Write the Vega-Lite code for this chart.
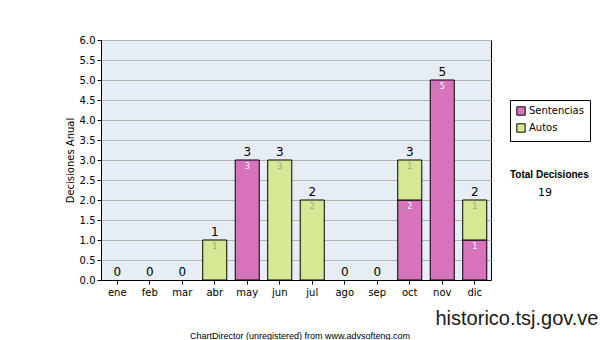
{
  "$schema": "https://vega.github.io/schema/vega-lite/v6.json",
  "autosize": {"type": "none"},
  "width": 390,
  "height": 240,
  "padding": {"left": 101, "top": 40, "right": 109, "bottom": 60},
  "background": "white",
  "view": {"stroke": "#000000", "strokeWidth": 1, "fill": "#e6edf5"},
  "title": {
    "text": "ChartDirector (unregistered) from www.advsofteng.com",
    "orient": "bottom",
    "anchor": "middle",
    "frame": "group",
    "font": "Liberation Sans",
    "fontSize": 9,
    "fontWeight": "normal",
    "color": "#000000",
    "offset": 4,
    "dx": 4
  },
  "config": {
    "font": "DejaVu Sans",
    "axis": {
      "labelFont": "DejaVu Sans",
      "labelFontSize": 10,
      "labelColor": "#000000",
      "domainColor": "#000000",
      "tickColor": "#000000",
      "tickSize": 4,
      "gridColor": "#b4b4b4",
      "gridOpacity": 1
    },
    "legend": {"labelFont": "DejaVu Sans"}
  },
  "data": {
    "values": [
      {"mes": "ene", "serie": "Sentencias", "k": 1, "value": 0},
      {"mes": "ene", "serie": "Autos", "k": 2, "value": 0},
      {"mes": "feb", "serie": "Sentencias", "k": 1, "value": 0},
      {"mes": "feb", "serie": "Autos", "k": 2, "value": 0},
      {"mes": "mar", "serie": "Sentencias", "k": 1, "value": 0},
      {"mes": "mar", "serie": "Autos", "k": 2, "value": 0},
      {"mes": "abr", "serie": "Sentencias", "k": 1, "value": 0},
      {"mes": "abr", "serie": "Autos", "k": 2, "value": 1},
      {"mes": "may", "serie": "Sentencias", "k": 1, "value": 3},
      {"mes": "may", "serie": "Autos", "k": 2, "value": 0},
      {"mes": "jun", "serie": "Sentencias", "k": 1, "value": 0},
      {"mes": "jun", "serie": "Autos", "k": 2, "value": 3},
      {"mes": "jul", "serie": "Sentencias", "k": 1, "value": 0},
      {"mes": "jul", "serie": "Autos", "k": 2, "value": 2},
      {"mes": "ago", "serie": "Sentencias", "k": 1, "value": 0},
      {"mes": "ago", "serie": "Autos", "k": 2, "value": 0},
      {"mes": "sep", "serie": "Sentencias", "k": 1, "value": 0},
      {"mes": "sep", "serie": "Autos", "k": 2, "value": 0},
      {"mes": "oct", "serie": "Sentencias", "k": 1, "value": 2},
      {"mes": "oct", "serie": "Autos", "k": 2, "value": 1},
      {"mes": "nov", "serie": "Sentencias", "k": 1, "value": 5},
      {"mes": "nov", "serie": "Autos", "k": 2, "value": 0},
      {"mes": "dic", "serie": "Sentencias", "k": 1, "value": 1},
      {"mes": "dic", "serie": "Autos", "k": 2, "value": 1}
    ]
  },
  "encoding": {
    "x": {
      "field": "mes",
      "type": "nominal",
      "sort": ["ene", "feb", "mar", "abr", "may", "jun", "jul", "ago", "sep", "oct", "nov", "dic"],
      "scale": {"paddingInner": 0.26, "paddingOuter": 0.13},
      "axis": {
        "labelAngle": 0,
        "labelPadding": 3,
        "title": "historico.tsj.gov.ve",
        "titleFont": "Liberation Sans",
        "titleFontSize": 20,
        "titleFontWeight": "normal",
        "titleColor": "#1a1a1a",
        "titleAlign": "right",
        "titleAnchor": "end",
        "titleBaseline": "alphabetic",
        "titleX": 497,
        "titleY": 44
      }
    }
  },
  "layer": [
    {
      "transform": [{"filter": "datum.value > 0"}],
      "mark": {"type": "bar", "stroke": "#000000", "strokeWidth": 1},
      "encoding": {
        "y": {
          "field": "value",
          "type": "quantitative",
          "stack": "zero",
          "scale": {"domain": [0, 6], "nice": false},
          "axis": {
            "values": [0, 0.5, 1, 1.5, 2, 2.5, 3, 3.5, 4, 4.5, 5, 5.5, 6],
            "format": ".1f",
            "labelPadding": 2,
            "title": "Decisiones Anual",
            "titleFont": "DejaVu Sans",
            "titleFontSize": 10,
            "titleFontWeight": "normal",
            "titleColor": "#000000",
            "titlePadding": 4
          }
        },
        "order": {"field": "k", "type": "quantitative"},
        "color": {
          "field": "serie",
          "type": "nominal",
          "scale": {"domain": ["Sentencias", "Autos"], "range": ["#d673bb", "#d5e995"]},
          "legend": {
            "title": null,
            "orient": "none",
            "legendX": 409,
            "legendY": 60,
            "symbolType": "square",
            "symbolSize": 70,
            "symbolStrokeColor": "#000000",
            "symbolStrokeWidth": 1,
            "labelFontSize": 10,
            "labelColor": "#000000",
            "strokeColor": "#000000",
            "fillColor": "#ffffff",
            "padding": 6,
            "rowPadding": 3,
            "labelOffset": 3
          }
        }
      }
    },
    {
      "transform": [{"filter": "datum.value > 0"}],
      "mark": {"type": "text", "fontSize": 8, "baseline": "middle", "dy": 7},
      "encoding": {
        "y": {
          "field": "value",
          "type": "quantitative",
          "stack": "zero",
          "axis": {
            "values": [0, 0.5, 1, 1.5, 2, 2.5, 3, 3.5, 4, 4.5, 5, 5.5, 6],
            "format": ".1f",
            "labelPadding": 2,
            "title": "Decisiones Anual",
            "titleFont": "DejaVu Sans",
            "titleFontSize": 10,
            "titleFontWeight": "normal",
            "titleColor": "#000000",
            "titlePadding": 4
          }
        },
        "order": {"field": "k", "type": "quantitative"},
        "detail": {"field": "serie"},
        "text": {"field": "value", "type": "quantitative"},
        "color": {"condition": {"test": "datum.serie === 'Sentencias'", "value": "#ffffff"}, "value": "#a0a0a0"}
      }
    },
    {
      "transform": [{"aggregate": [{"op": "sum", "field": "value", "as": "total"}], "groupby": ["mes"]}],
      "mark": {"type": "text", "fontSize": 12, "baseline": "bottom", "dy": -1, "color": "#000000"},
      "encoding": {
        "y": {
          "field": "total",
          "type": "quantitative",
          "axis": {
            "values": [0, 0.5, 1, 1.5, 2, 2.5, 3, 3.5, 4, 4.5, 5, 5.5, 6],
            "format": ".1f",
            "labelPadding": 2,
            "title": "Decisiones Anual",
            "titleFont": "DejaVu Sans",
            "titleFontSize": 10,
            "titleFontWeight": "normal",
            "titleColor": "#000000",
            "titlePadding": 4
          }
        },
        "text": {"field": "total", "type": "quantitative"}
      }
    },
    {
      "data": {"values": [{"total": "19"}]},
      "mark": {"type": "point", "opacity": 0},
      "encoding": {
        "x": null,
        "shape": {
          "field": "total",
          "type": "nominal",
          "legend": {
            "title": "Total Decisiones",
            "orient": "none",
            "legendX": 409,
            "legendY": 130,
            "titleFont": "Liberation Sans",
            "titleFontWeight": "bold",
            "titleFontSize": 10,
            "titleLimit": 300,
            "titleAnchor": "start",
            "titleAlign": "left",
            "titleColor": "#000000",
            "titlePadding": 7,
            "labelFontSize": 11,
            "labelColor": "#000000",
            "symbolOpacity": 0,
            "symbolSize": 1,
            "labelOffset": 17
          }
        }
      }
    }
  ]
}
